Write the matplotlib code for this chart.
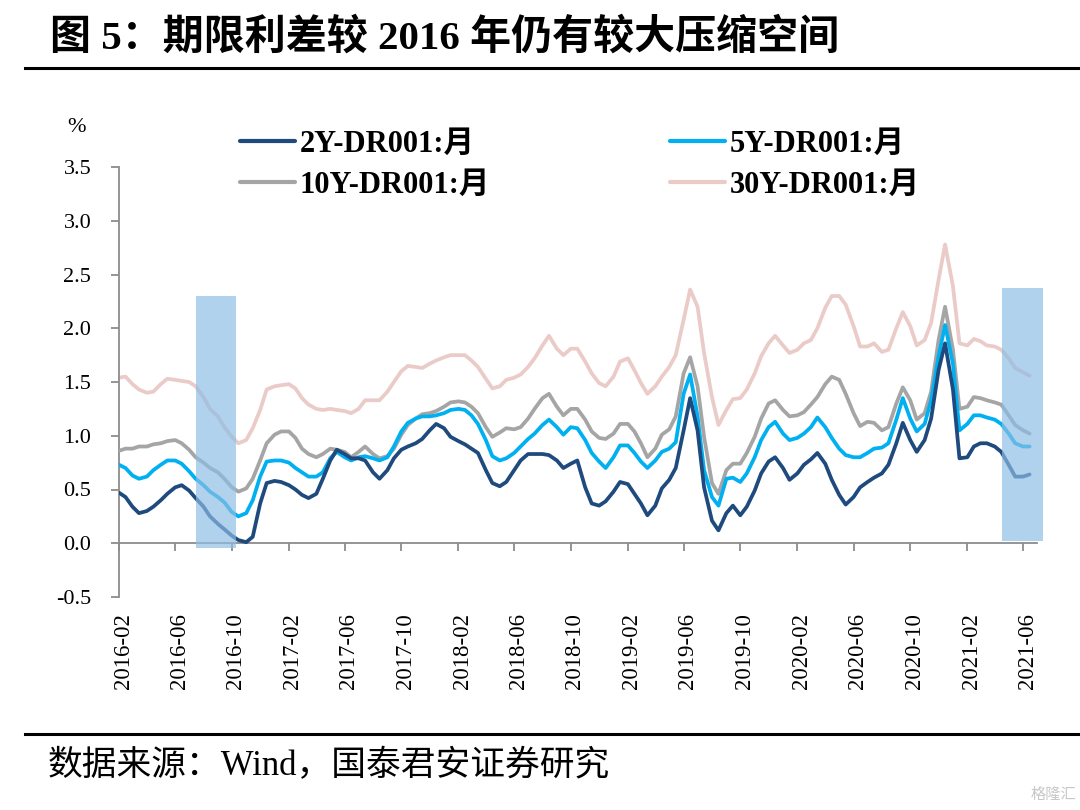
import matplotlib
matplotlib.use('Agg')
import matplotlib.pyplot as plt
import matplotlib.dates as mdates
import matplotlib.transforms as mtransforms
from matplotlib.lines import Line2D
from matplotlib.ticker import FixedLocator, FormatStrFormatter
import pandas as pd

plt.rcParams['axes.unicode_minus'] = False

# ---------------- data (semi-monthly readings) ----------------
dates = pd.date_range('2016-02-01', periods=130, freq='SMS')

y2 = [0.47,0.43,0.34,0.28,0.30,0.34,0.40,0.46,0.52,0.54,0.49,0.42,0.34,0.25,0.18,0.13,0.07,0.03,0.01,0.06,0.37,0.56,0.58,0.57,0.54,0.50,0.45,0.42,0.46,0.60,0.77,0.87,
      0.83,0.79,0.79,0.77,0.66,0.60,0.68,0.79,0.87,0.90,0.93,0.97,1.05,1.11,1.07,0.99,0.95,0.92,0.88,0.84,0.68,0.56,0.53,0.57,0.68,0.77,0.83,0.83,0.83,0.82,0.77,0.70,0.74,
      0.77,0.52,0.37,0.35,0.39,0.48,0.57,0.55,0.46,0.37,0.26,0.35,0.51,0.59,0.70,1.05,1.35,1.05,0.52,0.21,0.12,0.28,0.35,0.26,0.34,0.49,0.65,0.76,0.80,0.70,0.59,0.65,0.73,
      0.78,0.84,0.74,0.59,0.45,0.36,0.43,0.52,0.57,0.61,0.65,0.73,0.93,1.12,0.96,0.85,0.96,1.16,1.61,1.86,1.43,0.79,0.80,0.90,0.93,0.93,0.90,0.85,0.73,0.62,0.62,0.64]

y5 = [0.73,0.70,0.63,0.60,0.62,0.68,0.73,0.77,0.77,0.74,0.67,0.60,0.54,0.48,0.43,0.38,0.29,0.25,0.28,0.40,0.62,0.76,0.77,0.77,0.75,0.70,0.66,0.62,0.62,0.66,0.79,0.85,
      0.80,0.77,0.80,0.81,0.79,0.77,0.80,0.90,1.04,1.12,1.16,1.18,1.18,1.19,1.21,1.24,1.25,1.24,1.19,1.11,0.96,0.81,0.77,0.79,0.84,0.90,0.97,1.02,1.10,1.15,1.08,1.01,1.08,
      1.07,0.96,0.84,0.76,0.70,0.80,0.91,0.91,0.84,0.76,0.70,0.77,0.85,0.88,0.94,1.39,1.57,1.18,0.68,0.43,0.35,0.60,0.61,0.57,0.65,0.80,0.96,1.08,1.13,1.02,0.96,0.98,1.02,
      1.08,1.17,1.08,0.98,0.88,0.82,0.80,0.80,0.84,0.88,0.89,0.93,1.15,1.35,1.16,1.04,1.11,1.33,1.74,2.03,1.67,1.05,1.11,1.19,1.19,1.17,1.15,1.11,1.02,0.93,0.90,0.90]

y10 = [0.86,0.88,0.88,0.90,0.90,0.92,0.93,0.95,0.96,0.93,0.87,0.80,0.75,0.70,0.66,0.60,0.52,0.48,0.51,0.60,0.77,0.93,1.01,1.04,1.04,0.98,0.88,0.83,0.80,0.83,0.88,0.87,
       0.85,0.80,0.85,0.90,0.83,0.79,0.81,0.88,1.01,1.10,1.16,1.20,1.21,1.23,1.27,1.31,1.32,1.31,1.27,1.21,1.08,0.99,1.03,1.07,1.06,1.08,1.16,1.25,1.35,1.39,1.27,1.19,1.25,
       1.25,1.15,1.04,0.98,0.97,1.02,1.11,1.11,1.04,0.93,0.80,0.88,1.01,1.06,1.18,1.58,1.73,1.46,0.99,0.56,0.46,0.68,0.74,0.74,0.84,0.99,1.16,1.30,1.33,1.24,1.18,1.19,1.22,
       1.29,1.36,1.48,1.55,1.52,1.39,1.21,1.09,1.13,1.12,1.05,1.08,1.30,1.45,1.33,1.15,1.21,1.41,1.89,2.20,1.80,1.25,1.27,1.36,1.35,1.33,1.31,1.29,1.19,1.10,1.05,1.02]

y30 = [1.54,1.55,1.48,1.43,1.40,1.41,1.48,1.53,1.52,1.51,1.50,1.46,1.36,1.25,1.18,1.08,0.99,0.93,0.96,1.07,1.24,1.43,1.46,1.47,1.48,1.44,1.35,1.29,1.25,1.24,1.25,1.24,
       1.23,1.21,1.25,1.33,1.33,1.33,1.41,1.50,1.60,1.65,1.64,1.63,1.67,1.70,1.73,1.75,1.75,1.75,1.70,1.64,1.53,1.44,1.46,1.52,1.54,1.57,1.64,1.72,1.84,1.93,1.81,1.75,1.81,
       1.81,1.69,1.58,1.49,1.46,1.55,1.69,1.72,1.61,1.49,1.39,1.46,1.55,1.64,1.75,2.08,2.36,2.20,1.77,1.36,1.10,1.24,1.34,1.35,1.43,1.58,1.74,1.86,1.93,1.84,1.77,1.80,1.86,
       1.89,2.00,2.19,2.30,2.30,2.22,2.02,1.83,1.83,1.86,1.78,1.80,2.00,2.15,2.02,1.84,1.89,2.05,2.45,2.78,2.39,1.86,1.84,1.90,1.88,1.84,1.83,1.80,1.72,1.63,1.59,1.56]

series_names = ['2Y-DR001:月', '5Y-DR001:月', '10Y-DR001:月', '30Y-DR001:月']

shade_start = ['2016-07-15', '2021-04-17']
shade_end = ['2016-10-10', '2021-07-14']
shade_bottom = [-0.04, 0.02]
shade_top = [2.30, 2.37]

tick_dates = pd.date_range('2016-02-01', '2021-06-01', freq='4MS')
yticks = [-0.5, 0.0, 0.5, 1.0, 1.5, 2.0, 2.5, 3.0, 3.5]

# ---------------- styles ----------------
c2, c5, c10, c30 = '#1F4A7E', '#00B0F0', '#A5A5A5', '#EBCBC8'
axis_col = '#8C8C8C'
serif = ['Liberation Serif', 'Noto Sans CJK SC']

fig = plt.figure(figsize=(10.8, 8.1), dpi=100)
ax = fig.add_axes([119/1080, 1-597/810, (1037-119)/1080, (597-167)/810])

lw = 2.7
kw = dict(lw=lw, solid_joinstyle='round', solid_capstyle='round')
l30, = ax.plot(dates, y30, color=c30, zorder=2, **kw)
l10, = ax.plot(dates, y10, color=c10, zorder=3, **kw)
l5, = ax.plot(dates, y5, color=c5, zorder=4, **kw)
l2, = ax.plot(dates, y2, color=c2, zorder=5, **kw)

for s, e, b, t in zip(shade_start, shade_end, shade_bottom, shade_top):
    s = pd.Timestamp(s); e = pd.Timestamp(e)
    ax.bar(s, t - b, width=(e - s).days, bottom=b, align='edge',
           color='#8DBDE4', alpha=0.68, lw=0, zorder=6, clip_on=False)

ax.set_xlim(pd.Timestamp('2016-02-01'), pd.Timestamp('2021-07-01'))
ax.set_ylim(-0.5, 3.5)

for sp in ['top', 'right']:
    ax.spines[sp].set_visible(False)
ax.spines['bottom'].set_position(('data', 0))
for sp in ['left', 'bottom']:
    ax.spines[sp].set_color(axis_col)
    ax.spines[sp].set_linewidth(1.3)

ax.xaxis.set_major_locator(FixedLocator(mdates.date2num(tick_dates)))
ax.xaxis.set_major_formatter(mdates.DateFormatter('%Y-%m'))
ax.yaxis.set_major_locator(FixedLocator(yticks))
ax.yaxis.set_major_formatter(FormatStrFormatter('%.1f'))

ax.tick_params(axis='x', direction='out', length=5.5, width=1.3, color=axis_col,
               pad=45, labelsize=16.5, labelrotation=90)
ax.tick_params(axis='y', direction='out', length=6, width=1.3, color=axis_col,
               pad=14, labelsize=16)
for lab in ax.get_xticklabels() + ax.get_yticklabels():
    lab.set_fontfamily(serif)
offset = mtransforms.ScaledTranslation(4/100, 0, fig.dpi_scale_trans)
for lab in ax.get_xticklabels():
    lab.set_transform(lab.get_transform() + offset)

fig.text(77/1080, 1-127/810, '%', fontsize=16, family=serif, ha='center', va='center')

leg = ax.legend([l2, l10, l5, l30],
                [series_names[0], series_names[2], series_names[1], series_names[3]],
                ncol=2, loc='upper left', bbox_to_anchor=(240/1080, 1-130/810),
                bbox_transform=fig.transFigure, frameon=False, borderpad=0,
                borderaxespad=0, handlelength=1.8, handletextpad=0.15,
                columnspacing=5.9, labelspacing=0.38,
                prop={'family': serif, 'weight': 'bold', 'size': 22})
for h in leg.get_lines():
    h.set_linewidth(3.0)

# ---------------- title, rules, source ----------------
fig.text(50/1080, 1-38/810, '图 5：期限利差较 2016 年仍有较大压缩空间', fontsize=29.5,
         fontweight='bold', family=serif, ha='left', va='center')
fig.add_artist(Line2D([25/1080, 1.0], [1-68/810, 1-68/810], color='black', lw=2.2))
fig.add_artist(Line2D([25/1080, 1.0], [1-734/810, 1-734/810], color='black', lw=2.2))
fig.text(48/1080, 1-767/810, '数据来源：Wind，国泰君安证券研究', fontsize=25,
         family=serif, ha='left', va='center')
fig.text(1076/1080, 1-795/810, '格隆汇', fontsize=11, color='#C8C8C8',
         family=serif, ha='right', va='center')

fig.savefig('out.png', dpi=100)
